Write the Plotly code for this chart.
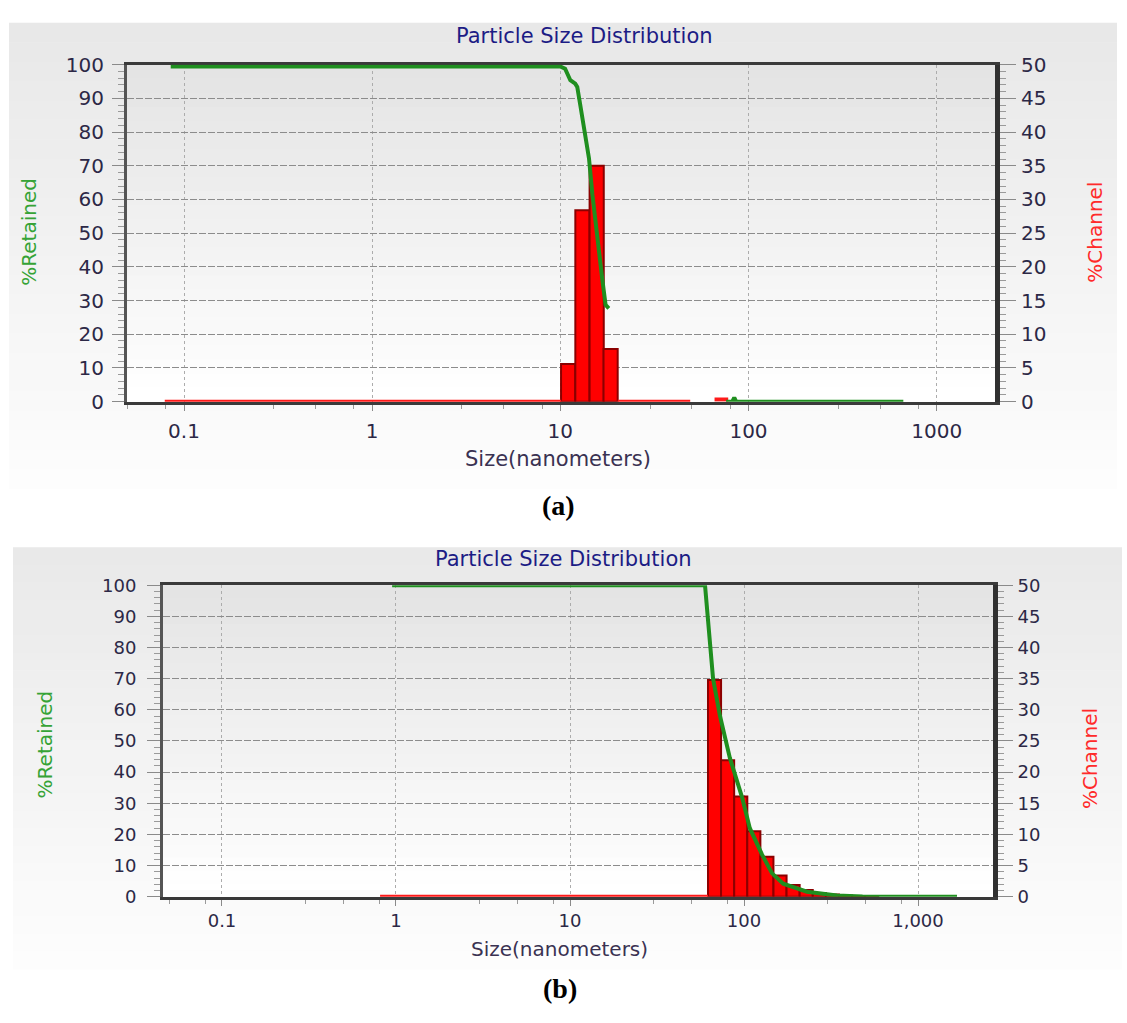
import plotly.graph_objects as go

W, H = 1127, 1023

# ---------------- data ----------------
# channel step ratio (2^(1/4)) for the bar bins
STEP = 2 ** 0.25

# Panel (a)
a_bar_size = [11.0, 13.1, 15.6, 18.5]          # nm (channel centre)
a_bar_channel = [5.6, 28.4, 35.0, 7.8]          # %Channel
a_ret_size = [0.085, 10.0, 10.6, 11.3, 12.0, 12.3, 12.8, 13.6, 14.2, 14.8, 15.4, 16.0, 16.7, 17.4, 18.1]
a_ret_val = [99.5, 99.5, 98.8, 95.4, 94.4, 93.4, 87.6, 78.9, 72.2, 61.5, 52.8, 44.1, 36.4, 28.7, 27.7]
a_ret_tail_size = [76, 82, 84, 86, 665]
a_ret_tail_val = [0, 0, 1.2, 0, 0]
a_zero_size = [0.079, 10.1, None, 20.2, 49, None, 66, 78]
a_zero_val = [0, 0, None, 0, 0, None, 0.3, 0.3]

# Panel (b)
b_bar_size = [67.7, 80.5, 95.8, 113.9, 135.4, 161.1, 191.5, 227.8, 270.9, 322.1, 383.0, 455.5, 541.7]
b_bar_channel = [34.8, 21.9, 16.1, 10.5, 6.4, 3.4, 1.9, 1.1, 0.6, 0.35, 0.2, 0.1, 0.05]
b_ret_size = [0.95, 59.7, 66.4, 72.8, 83.0, 97.4, 108, 127, 145, 168, 230, 342, 480, 1675]
b_ret_val = [100, 100, 70, 58, 44.5, 32, 22, 13.5, 7.5, 4.2, 1.6, 0.4, 0.1, 0]
b_zero_size = [0.81, 62.1]
b_zero_val = [0, 0]

x_ticks = [0.1, 1, 10, 100, 1000]
a_x_text = ["0.1", "1", "10", "100", "1000"]
b_x_text = ["0.1", "1", "10", "100", "1,000"]
minor_x = [m * d for d in [0.01, 0.1, 1, 10, 100, 1000] for m in (3, 5, 8)]

TITLE = "Particle Size Distribution"

# ---------------- helpers ----------------
def px(x):
    return x / W

def py(y):
    return 1 - y / H

def bins(centers):
    lo = [c / STEP ** 0.5 for c in centers]
    hi = [c * STEP ** 0.5 for c in centers]
    mid = [(l + h) / 2 for l, h in zip(lo, hi)]
    wid = [h - l for l, h in zip(lo, hi)]
    return mid, wid

def hexmix(c0, c1, t):
    a = [int(c0[i:i + 2], 16) for i in (1, 3, 5)]
    b = [int(c1[i:i + 2], 16) for i in (1, 3, 5)]
    return "#%02x%02x%02x" % tuple(round(a[k] + (b[k] - a[k]) * t) for k in range(3))

shapes = []

def gradient(x0, x1, y0, y1, ctop, cbot, n=24):
    for i in range(n):
        ya = y0 + (y1 - y0) * i / n
        yb = y0 + (y1 - y0) * (i + 1) / n + 0.6
        shapes.append(dict(type="rect", xref="paper", yref="paper", layer="below",
                           x0=px(x0), x1=px(x1), y0=py(yb), y1=py(ya),
                           line=dict(width=0), fillcolor=hexmix(ctop, cbot, i / (n - 1))))

# outer panels
gradient(9, 1117, 11, 488, "#e8e8e8", "#fdfdfd")
gradient(13, 1122, 548, 980, "#e9e9e9", "#fdfdfd")
# plot areas
gradient(127, 995, 54, 399, "#e4e4e4", "#ffffff")
gradient(163, 993, 587, 906, "#e4e4e4", "#ffffff")

GREEN = "#1f8f1f"
RED = "#ff1a1a"
BAR_EDGE = "#8b0000"
TICKC = "#8a8a8a"
LBL = "#2c2846"

fig = go.Figure()

# ---- panel (a) ----
am, aw = bins(a_bar_size)
fig.add_trace(go.Scatter(x=a_zero_size, y=a_zero_val, mode="lines", xaxis="x", yaxis="y",
                         line=dict(color=RED, width=4), connectgaps=False, hoverinfo="skip"))
fig.add_trace(go.Bar(x=am, width=aw, y=a_bar_channel, xaxis="x", yaxis="y",
                     marker=dict(color="#ff0000", line=dict(color=BAR_EDGE, width=2))))
fig.add_trace(go.Scatter(x=a_ret_size, y=a_ret_val, mode="lines", xaxis="x", yaxis="y2",
                         line=dict(color=GREEN, width=4)))
fig.add_trace(go.Scatter(x=a_ret_tail_size, y=a_ret_tail_val, mode="lines", xaxis="x", yaxis="y2",
                         line=dict(color=GREEN, width=4)))

# ---- panel (b) ----
bm, bw = bins(b_bar_size)
fig.add_trace(go.Scatter(x=b_zero_size, y=b_zero_val, mode="lines", xaxis="x2", yaxis="y3",
                         line=dict(color=RED, width=4)))
fig.add_trace(go.Bar(x=bm, width=bw, y=b_bar_channel, xaxis="x2", yaxis="y3",
                     marker=dict(color="#ff0000", line=dict(color=BAR_EDGE, width=2))))
fig.add_trace(go.Scatter(x=b_ret_size, y=b_ret_val, mode="lines", xaxis="x2", yaxis="y4",
                         line=dict(color=GREEN, width=4)))

def xaxis_cfg(domain, rng, anchor, text, fsize, standoff):
    return dict(type="log", domain=domain, range=rng, anchor=anchor,
                tickmode="array", tickvals=x_ticks, ticktext=text,
                ticks="outside", ticklen=6, tickcolor=TICKC, tickwidth=1,
                minor=dict(tickmode="array", tickvals=minor_x, ticks="outside", ticklen=4,
                           tickcolor="#9a9a9a", showgrid=False),
                showgrid=True, gridcolor="#acacac", griddash="3px,3px", gridwidth=1,
                showline=True, linecolor="#3a3a3a", linewidth=3, mirror=True,
                zeroline=False, layer="below traces",
                tickfont=dict(family="DejaVu Sans", size=fsize, color=LBL),
                ticklabelstandoff=standoff)

def chan_axis(domain, anchor, fsize, standoff, ticklen):
    return dict(domain=domain, anchor=anchor, side="right", range=[0, 50],
                tickmode="linear", tick0=0, dtick=5,
                ticks="outside", ticklen=ticklen, tickcolor=TICKC,
                minor=dict(dtick=1, ticks="outside", ticklen=6, tickcolor="#9a9a9a", showgrid=False),
                showgrid=True, gridcolor="#8c8c8c", griddash="7px,2px", gridwidth=1,
                showline=True, linecolor="#303030", linewidth=5,
                zeroline=False, layer="below traces",
                tickfont=dict(family="DejaVu Sans", size=fsize, color=LBL),
                ticklabelstandoff=standoff)

def ret_axis(overlay, anchor, fsize, standoff, ticklen):
    return dict(overlaying=overlay, anchor=anchor, side="left", range=[0, 100],
                tickmode="linear", tick0=0, dtick=10,
                ticks="outside", ticklen=ticklen, tickcolor=TICKC,
                minor=dict(dtick=2, ticks="outside", ticklen=6, tickcolor="#9a9a9a", showgrid=False),
                showgrid=False, showline=True, linecolor="#555555", linewidth=3,
                zeroline=False, layer="below traces",
                tickfont=dict(family="DejaVu Sans", size=fsize, color=LBL),
                ticklabelstandoff=standoff)

a_xdom = [px(127), px(995)]
a_ydom = [py(399), py(54)]
b_xdom = [px(163), px(993)]
b_ydom = [py(906), py(587)]

def ann(text, x, y, size, color, angle=0, family="DejaVu Sans", bold=False):
    return dict(text=("<b>%s</b>" % text) if bold else text, x=px(x), y=py(y),
                xref="paper", yref="paper", showarrow=False, textangle=angle,
                xanchor="center", yanchor="middle",
                font=dict(family=family, size=size, color=color))

annotations = [
    ann(TITLE, 585, 25, 21, "#1c1c85"),
    ann("%Retained", 29, 225, 20, "#36a336", -90),
    ann("%Channel", 1095, 226, 20, "#ff2a2a", -90),
    ann("Size(nanometers)", 558, 458, 21, "#3a3252"),
    ann("(a)", 558, 505, 28, "#000000", family="Liberation Serif", bold=True),
    ann(TITLE, 563, 560, 21, "#1c1c85"),
    ann("%Retained", 45, 750, 20, "#36a336", -90),
    ann("%Channel", 1090, 765, 20, "#ff2a2a", -90),
    ann("Size(nanometers)", 559, 960, 20, "#3a3252"),
    ann("(b)", 560, 1000, 28, "#000000", family="Liberation Serif", bold=True),
]

fig.update_layout(
    width=W, height=H, margin=dict(l=0, r=0, t=0, b=0),
    paper_bgcolor="#ffffff", plot_bgcolor="rgba(0,0,0,0)",
    showlegend=False, barmode="overlay",
    xaxis=xaxis_cfg(a_xdom, [-1.303, 3.31], "y", a_x_text, 20, 3),
    yaxis=chan_axis(a_ydom, "x", 20, 1, 16),
    yaxis2=ret_axis("y", "x", 20, 4, 12),
    xaxis2=xaxis_cfg(b_xdom, [-1.339, 3.431], "y3", b_x_text, 18, 0),
    yaxis3=chan_axis(b_ydom, "x2", 18, 1, 15),
    yaxis4=ret_axis("y3", "x2", 18, 7, 13),
    shapes=shapes,
    annotations=annotations,
)

fig.write_html("out.html")
